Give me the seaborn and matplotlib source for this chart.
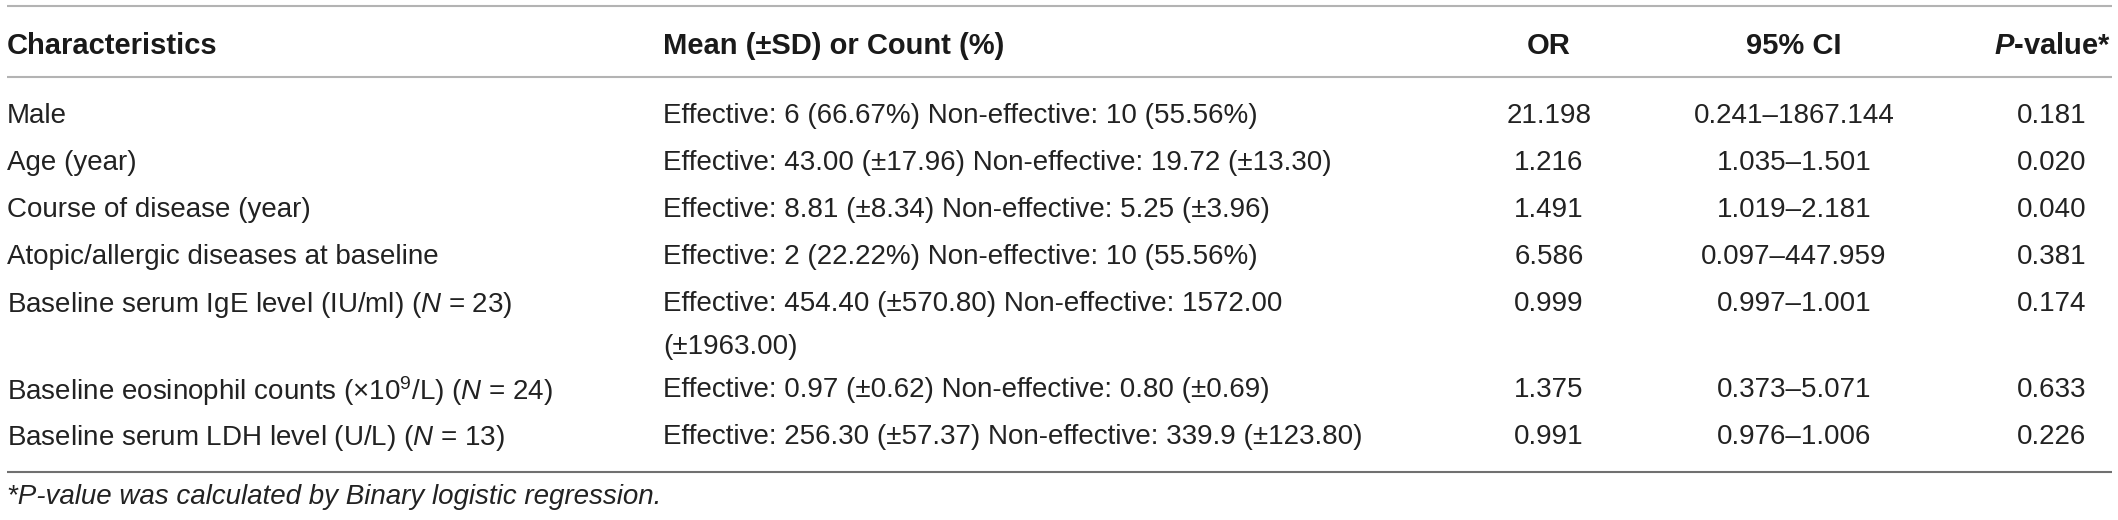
import matplotlib
matplotlib.use("Agg")
import matplotlib.pyplot as plt
import seaborn as sns

# ---------------- data ----------------
characteristics = [
    "Male",
    "Age (year)",
    "Course of disease (year)",
    "Atopic/allergic diseases at baseline",
    "Baseline serum IgE level (IU/ml) ($N$ = 23)",
    "Baseline eosinophil counts (×$10^{9}$/L) ($N$ = 24)",
    "Baseline serum LDH level (U/L) ($N$ = 13)",
]
mean_sd = [
    "Effective: 6 (66.67%) Non-effective: 10 (55.56%)",
    "Effective: 43.00 (±17.96) Non-effective: 19.72 (±13.30)",
    "Effective: 8.81 (±8.34) Non-effective: 5.25 (±3.96)",
    "Effective: 2 (22.22%) Non-effective: 10 (55.56%)",
    "Effective: 454.40 (±570.80) Non-effective: 1572.00\n(±1963.00)",
    "Effective: 0.97 (±0.62) Non-effective: 0.80 (±0.69)",
    "Effective: 256.30 (±57.37) Non-effective: 339.9 (±123.80)",
]
odds_ratio = [21.198, 1.216, 1.491, 6.586, 0.999, 1.375, 0.991]
ci_low = [0.241, 1.035, 1.019, 0.097, 0.997, 0.373, 0.976]
ci_high = [1867.144, 1.501, 2.181, 447.959, 1.001, 5.071, 1.006]
p_values = [0.181, 0.020, 0.040, 0.381, 0.174, 0.633, 0.226]
headers = ["Characteristics", "Mean (±SD) or Count (%)", "OR", "95% CI",
           r"$\mathbfit{P}$-value*"]
footnote = "*P-value was calculated by Binary logistic regression."

# ---------------- style ----------------
sns.set_theme(style="white")
plt.rcParams["font.family"] = ["Liberation Sans", "DejaVu Sans"]
plt.rcParams["mathtext.fontset"] = "custom"
plt.rcParams["mathtext.rm"] = "Liberation Sans"
plt.rcParams["mathtext.it"] = "Liberation Sans:italic"
plt.rcParams["mathtext.bf"] = "Liberation Sans:bold"
plt.rcParams["mathtext.bfit"] = "Liberation Sans:italic:bold"

W, H = 2118, 520
fig = plt.figure(figsize=(W / 100, H / 100), dpi=100)
fig.patch.set_facecolor("white")
ax = fig.add_axes([0, 0, 1, 1])
ax.set_xlim(0, W)
ax.set_ylim(H, 0)
ax.axis("off")
sns.despine(ax=ax, left=True, bottom=True)

TXT = "#222222"
BODY = 20
HEAD = 21

x_char, x_mean, x_or, x_ci, x_p = 7, 663, 1549, 1794, 2052
line_x0, line_x1 = 7, 2112
y_top, y_head, y_head_line = 5.5, 42.5, 77
y_first, row_step, wrap_gap = 113, 47, 43
y_bottom, y_foot = 472, 494

# rules
ax.hlines([y_top, y_head_line], line_x0, line_x1, colors="#b3b3b3", linewidth=1.5)
ax.hlines([y_bottom], line_x0, line_x1, colors="#707070", linewidth=1.5)

# header
hx = [x_char, x_mean, x_or, x_ci, x_p]
ha = ["left", "left", "center", "center", "center"]
for h, x, a in zip(headers, hx, ha):
    ax.text(x, y_head, h, ha=a, va="center_baseline", fontsize=HEAD,
            fontweight="bold", color="#1a1a1a")

# body rows
y = y_first
for i in range(len(characteristics)):
    ax.text(x_char, y, characteristics[i], ha="left", va="center_baseline",
            fontsize=BODY, color=TXT)
    parts = mean_sd[i].split("\n")
    for k, part in enumerate(parts):
        ax.text(x_mean, y + k * wrap_gap, part, ha="left", va="center_baseline",
                fontsize=BODY, color=TXT)
    ax.text(x_or, y, f"{odds_ratio[i]:.3f}", ha="center", va="center_baseline",
            fontsize=BODY, color=TXT)
    ax.text(x_ci, y, f"{ci_low[i]:.3f}\u2013{ci_high[i]:.3f}", ha="center",
            va="center_baseline", fontsize=BODY, color=TXT)
    ax.text(x_p, y, f"{p_values[i]:.3f}", ha="center", va="center_baseline",
            fontsize=BODY, color=TXT)
    y += row_step + (len(parts) - 1) * 39

ax.text(x_char, y_foot, footnote, ha="left", va="center_baseline",
        fontsize=BODY, style="italic", color=TXT)

fig.savefig("out.png", dpi=100, facecolor="white")
